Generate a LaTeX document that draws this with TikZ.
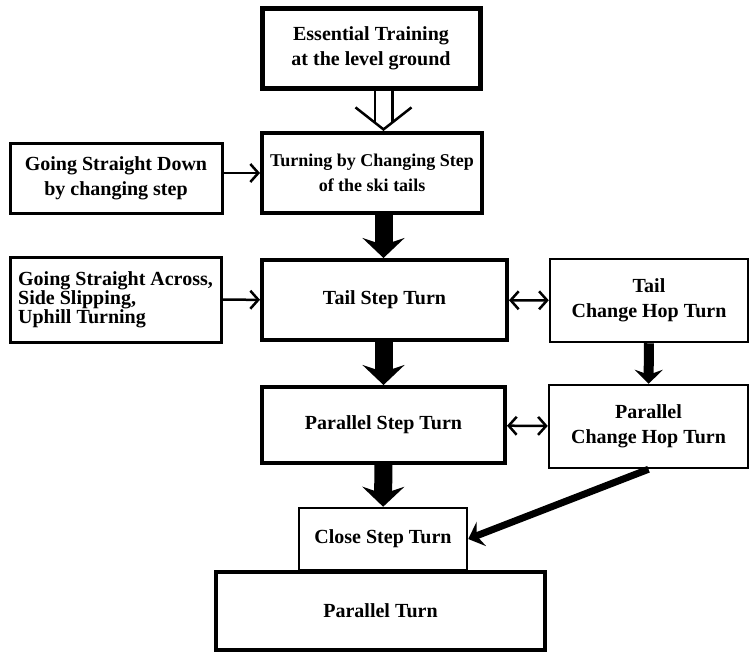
\documentclass[tikz,border=0pt]{standalone}
\usepackage{fontspec}
\setmainfont{Liberation Serif}
\usetikzlibrary{arrows.meta}

\begin{document}
\begin{tikzpicture}[
    x=1pt, y=-1pt,
    font=\fontsize{20}{25}\selectfont\bfseries,
    bigbox/.style={rectangle, draw, line width=4pt, align=center, inner sep=0pt},
    smallbox/.style={rectangle, draw, line width=2.5pt, align=center, inner sep=0pt},
    thin/.style={line width=2.5pt, -{Straight Barb[length=8pt, width=18pt]}},
    both/.style={line width=2.5pt, {Straight Barb[length=8pt, width=18pt]}-{Straight Barb[length=8pt, width=18pt]}},
    fat/.style={line width=18pt, -{Stealth[length=20pt, width=42pt, inset=7pt]}},
    mid/.style={line width=10pt, -{Stealth[length=14pt, width=28pt, inset=5pt]}},
    slim/.style={line width=7pt, -{Stealth[length=14pt, width=26pt, inset=5pt]}},
    dbl/.style={double, double distance=15pt, line width=2.5pt, shorten >=9pt},
    vee/.style={line width=2.5pt, -{Straight Barb[length=22pt, width=56pt]}}
]
\useasboundingbox (0,0) rectangle (749,651);

\node[bigbox, line width=5pt, minimum width=218pt, minimum height=80pt] (ess) at (371, 48) {Essential Training\\at the level ground};
\node[bigbox, minimum width=220pt, minimum height=80pt, font=\fontsize{18}{25}\selectfont\bfseries] (turn) at (372, 173) {Turning by Changing Step\\of the ski tails};
\node[smallbox, line width=3pt, minimum width=212pt, minimum height=70pt] (down) at (116, 178) {Going Straight Down\\by changing step};
\node[smallbox, line width=3pt, minimum width=211pt, minimum height=85pt, font=\fontsize{20}{19}\selectfont\bfseries, align=left] (across) at (115.5, 299.5) {Going Straight Across,\\Side Slipping,\\Uphill Turning};
\node[bigbox, minimum width=245pt, minimum height=80pt] (tail) at (384.5, 300) {Tail Step Turn};
\node[smallbox, minimum width=198pt, minimum height=83pt] (tailhop) at (649, 300.5) {Tail\\Change Hop Turn};
\node[bigbox, minimum width=243pt, minimum height=76pt] (pstep) at (383.5, 425) {Parallel Step Turn};
\node[smallbox, minimum width=199pt, minimum height=83pt] (phop) at (648.5, 426.5) {Parallel\\Change Hop Turn};
\node[smallbox, minimum width=168pt, minimum height=62pt] (close) at (383, 539) {Close Step Turn};
\node[bigbox, minimum width=329pt, minimum height=78pt] (par) at (380.5, 611) {Parallel Turn};

% open double arrow: shaft, then the vee
\draw[dbl] (ess.south -| pstep) -- (turn.north -| pstep);
\draw[vee] ([yshift=1pt]turn.north -| pstep) -- (turn.north -| pstep);
\draw[thin] (down.east |- turn) -- (turn.west);
\draw[fat] (turn.south -| pstep) -- (tail.north -| pstep);
\draw[thin] (across) -- (tail);
\draw[both] (tail) -- (tailhop);
\draw[fat] (tail.south -| pstep) -- (pstep.north);
\draw[mid] (tailhop) -- (phop);
\draw[both] (pstep) -- (phop);
\draw[fat] (pstep) -- (close);
\draw[slim] (phop.south) -- (close.east);

\end{tikzpicture}
\end{document}
